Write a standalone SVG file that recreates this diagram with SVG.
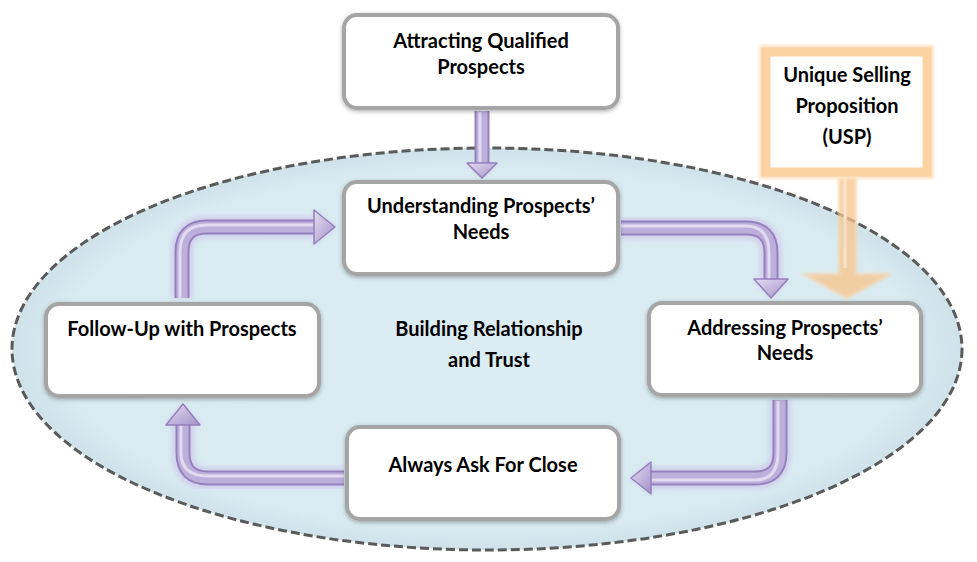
<svg xmlns="http://www.w3.org/2000/svg" width="977" height="562" viewBox="0 0 977 562">
<defs>
  <radialGradient id="ellG" cx="0.5" cy="0.5" r="0.5">
    <stop offset="0" stop-color="#dbedf3"/>
    <stop offset="0.9" stop-color="#d9ebf1"/>
    <stop offset="1" stop-color="#cfe2e9"/>
  </radialGradient>
  <filter id="boxSh" x="-10%" y="-20%" width="120%" height="140%">
    <feDropShadow dx="0" dy="1.5" stdDeviation="2" flood-color="#000" flood-opacity="0.3"/>
  </filter>
  <filter id="glow" x="-20%" y="-20%" width="140%" height="140%">
    <feGaussianBlur stdDeviation="2.5"/>
  </filter>
  <filter id="oglow" x="-20%" y="-20%" width="140%" height="140%">
    <feGaussianBlur stdDeviation="1.5"/>
  </filter>
  <linearGradient id="headG" x1="0" y1="0" x2="1" y2="1">
    <stop offset="0" stop-color="#e4ddf2"/>
    <stop offset="1" stop-color="#a392c8"/>
  </linearGradient>
</defs>
<style>
  .box { fill: #ffffff; stroke: #a5a5a5; stroke-width: 4; filter: url(#boxSh); }
  .t { font-family: Lato, "Liberation Sans", sans-serif; font-weight: bold; font-size: 20px; fill: #000; text-anchor: middle; }
  .sh-glow { fill: none; stroke: #cbbde8; stroke-width: 22; stroke-opacity: 0.6; filter: url(#glow); }
  .sh-out { fill: none; stroke: #9580bd; stroke-width: 15; }
  .sh-mid { fill: none; stroke: #bcafda; stroke-width: 11; }
  .sh-hi { fill: none; stroke: #e2daf1; stroke-width: 3; }
  .hd { fill: url(#headG); stroke: #9580bd; stroke-width: 1.5; stroke-linejoin: round; }
  .hd-glow { fill: #cbbde8; opacity: 0.6; filter: url(#glow); }
</style>

<g id="ellipse-building">
  <ellipse cx="487" cy="349" rx="475" ry="201" fill="url(#ellG)" stroke="#5a5a5a" stroke-width="3" stroke-dasharray="9 4"/>
  <text class="t" x="489" y="336">Building Relationship</text>
  <text class="t" x="489" y="367">and Trust</text>
</g>

<g id="connectors">
  <path class="sh-glow" d="M482,111 V164"/>
  <path class="sh-glow" d="M621,228 H746 Q771,228 771,253 V280"/>
  <path class="sh-glow" d="M780,400 V453 Q780,478 755,478 H650"/>
  <path class="sh-glow" d="M344,478 H208 Q183,478 183,453 V424"/>
  <path class="sh-glow" d="M182,298 V252 Q182,227 207,227 H315"/>
  <polygon class="hd-glow" points="466,163 498,163 482,179"/>
  <polygon class="hd-glow" points="753,279 789,279 771,299"/>
  <polygon class="hd-glow" points="651,461 651,495 630,478"/>
  <polygon class="hd-glow" points="165,425 201,425 183,403"/>
  <polygon class="hd-glow" points="314,209 314,245 336,227"/>
  <g>
    <path class="sh-out" d="M482,111 V164"/>
    <path class="sh-mid" d="M482,111 V164"/>
    <path class="sh-hi" d="M480,112 V164"/>
    <polygon class="hd" points="467,163 497,163 482,178"/>
  </g>
  <g>
    <path class="sh-out" d="M621,228 H746 Q771,228 771,253 V280"/>
    <path class="sh-mid" d="M621,228 H746 Q771,228 771,253 V280"/>
    <path class="sh-hi" d="M621,226 H746 Q769,226 769,253 V280"/>
    <polygon class="hd" points="754,279 788,279 771,298"/>
  </g>
  <g>
    <path class="sh-out" d="M780,400 V453 Q780,478 755,478 H650"/>
    <path class="sh-mid" d="M780,400 V453 Q780,478 755,478 H650"/>
    <path class="sh-hi" d="M778,401 V453 Q778,480 755,480 H650"/>
    <polygon class="hd" points="651,462 651,494 631,478"/>
  </g>
  <g>
    <path class="sh-out" d="M344,478 H208 Q183,478 183,453 V424"/>
    <path class="sh-mid" d="M344,478 H208 Q183,478 183,453 V424"/>
    <path class="sh-hi" d="M344,476 H208 Q181,476 181,453 V424"/>
    <polygon class="hd" points="166,425 200,425 183,404"/>
  </g>
  <g>
    <path class="sh-out" d="M182,298 V252 Q182,227 207,227 H315"/>
    <path class="sh-mid" d="M182,298 V252 Q182,227 207,227 H315"/>
    <path class="sh-hi" d="M180,298 V252 Q180,225 207,225 H315"/>
    <polygon class="hd" points="314,210 314,244 335,227"/>
  </g>
  <g opacity="0.75">
    <path d="M839,172 V274 H803 L847,298 L891,274 H856 V172 Z" fill="#f9c48a" stroke="#fbd4a8" stroke-width="2" filter="url(#oglow)"/>
    <path d="M845,176 V268" stroke="#fde0bf" stroke-width="3" fill="none"/>
  </g>
</g>

<g id="node-attracting">
  <rect class="box" x="344" y="15" width="274" height="93" rx="13"/>
  <text class="t" x="481" y="48">Attracting Qualified</text>
  <text class="t" x="481" y="74">Prospects</text>
</g>

<g id="node-understanding">
  <rect class="box" x="344" y="182" width="274" height="92" rx="13"/>
  <text class="t" x="481" y="213">Understanding Prospects’</text>
  <text class="t" x="481" y="239">Needs</text>
</g>

<g id="node-followup">
  <rect class="box" x="46" y="304" width="273" height="92" rx="13"/>
  <text class="t" x="182" y="336">Follow-Up with Prospects</text>
</g>

<g id="node-addressing">
  <rect class="box" x="649" y="303" width="272" height="92" rx="13"/>
  <text class="t" x="785" y="335">Addressing Prospects’</text>
  <text class="t" x="785" y="360">Needs</text>
</g>

<g id="node-always">
  <rect class="box" x="347" y="427" width="272" height="92" rx="13"/>
  <text class="t" x="483" y="472">Always Ask For Close</text>
</g>

<g id="node-usp">
  <rect x="766" y="52" width="161" height="120" fill="none" stroke="#fde3c4" stroke-width="14" filter="url(#oglow)"/>
  <rect x="766" y="52" width="161" height="120" fill="#ffffff" stroke="#fcd2a2" stroke-width="9"/>
  <text class="t" x="847" y="82">Unique Selling</text>
  <text class="t" x="847" y="113">Proposition</text>
  <text class="t" x="847" y="144">(USP)</text>
</g>
</svg>
